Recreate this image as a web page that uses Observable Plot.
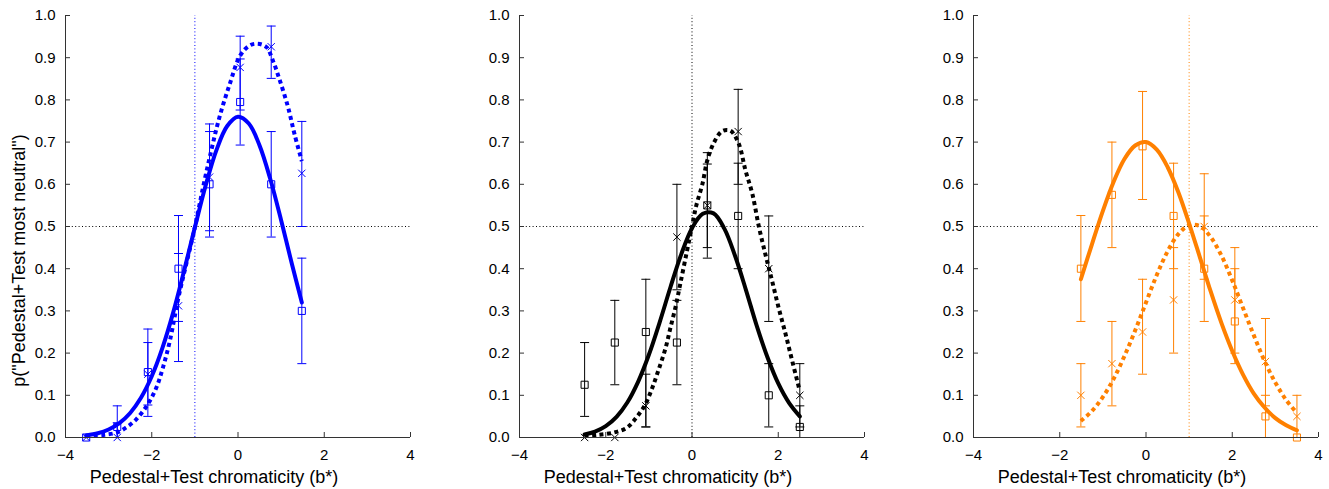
<!DOCTYPE html>
<html>
<head>
<meta charset="utf-8">
<script src="https://cdn.jsdelivr.net/npm/d3@7"></script>
<script src="https://cdn.jsdelivr.net/npm/@observablehq/plot@0.6"></script>
<style>
  html, body { margin: 0; padding: 0; background: #fff; }
  #chart { display: flex; width: 1329px; height: 489px; }
</style>
</head>
<body>
<div id="chart"></div>
<script>
// ---- axis ticks and labels ----
const xTicks = [-4, -2, 0, 2, 4];
const yTicks = [0, 0.1, 0.2, 0.3, 0.4, 0.5, 0.6, 0.7, 0.8, 0.9, 1.0];
const xTitle = "Pedestal+Test chromaticity (b*)";
const yTitle = 'p("Pedestal+Test most neutral")';

// ---- panel 1 (blue) ----
const p1X     = [-3.52, -2.8, -2.09, -1.38, -0.66, 0.05, 0.77, 1.48];
const p1SqY   = [0, 0.025, 0.155, 0.40, 0.60, 0.795, 0.60, 0.30];
const p1SqLo  = [0, 0, 0.05, 0.275, 0.475, 0.693, 0.475, 0.175];
const p1SqHi  = [0, 0.075, 0.257, 0.526, 0.725, 0.897, 0.725, 0.425];
const p1CrY   = [0, 0, 0.15, 0.312, 0.617, 0.877, 0.926, 0.626];
const p1CrLo  = [0, 0, 0.077, 0.18, 0.49, 0.776, 0.851, 0.50];
const p1CrHi  = [0, 0.035, 0.225, 0.436, 0.743, 0.951, 0.975, 0.749];
const p1SolidX = [-3.52, -3.25, -3, -2.75, -2.5, -2.25, -2, -1.75, -1.5, -1.25, -1, -0.75, -0.5, -0.25, 0, 0.25, 0.5, 0.75, 1, 1.25, 1.48];
const p1SolidY = [0.005, 0.010, 0.019, 0.034, 0.058, 0.094, 0.145, 0.213, 0.297, 0.395, 0.498, 0.597, 0.681, 0.738, 0.760, 0.744, 0.692, 0.612, 0.515, 0.411, 0.320];
const p1DashX = [-3.52, -3.13, -2.8, -2.59, -2.36, -2.09, -1.89, -1.74, -1.58, -1.38, -1.2, -1.0, -0.81, -0.62, -0.43, -0.19, 0.05, 0.27, 0.46, 0.66, 0.81, 0.97, 1.16, 1.31, 1.48];
const p1DashY = [0.004, 0.006, 0.012, 0.024, 0.043, 0.079, 0.119, 0.166, 0.229, 0.332, 0.411, 0.498, 0.593, 0.68, 0.759, 0.838, 0.905, 0.929, 0.933, 0.925, 0.893, 0.846, 0.783, 0.719, 0.655];

// ---- panel 2 (black) ----
const p2X     = [-2.49, -1.79, -1.07, -0.35, 0.355, 1.07, 1.78, 2.5];
const p2SqY   = [0.125, 0.225, 0.25, 0.225, 0.55, 0.525, 0.10, 0.025];
const p2SqLo  = [0.05, 0.125, 0.025, 0.125, 0.425, 0.40, 0.025, 0.0];
const p2SqHi  = [0.225, 0.325, 0.375, 0.325, 0.675, 0.65, 0.175, 0.075];
const p2CrY   = [0, 0, 0.075, 0.475, 0.55, 0.725, 0.40, 0.10];
const p2CrLo  = [0, 0, 0.025, 0.35, 0.45, 0.60, 0.275, 0.025];
const p2CrHi  = [0, 0, 0.15, 0.60, 0.648, 0.825, 0.525, 0.175];
const p2SolidX = [-2.49, -2.25, -2, -1.75, -1.5, -1.25, -1, -0.75, -0.5, -0.25, 0, 0.25, 0.5, 0.75, 1, 1.25, 1.5, 1.75, 2, 2.25, 2.5];
const p2SolidY = [0.007, 0.014, 0.027, 0.049, 0.083, 0.132, 0.196, 0.273, 0.356, 0.434, 0.496, 0.530, 0.531, 0.495, 0.43, 0.35, 0.265, 0.19, 0.128, 0.082, 0.05];
const p2DashX = [-2.49, -2.2, -1.8, -1.5, -1.27, -1.08, -0.92, -0.77, -0.61, -0.5, -0.38, -0.27, -0.12, 0.0, 0.1, 0.24, 0.35, 0.5, 0.7, 0.89, 1.08, 1.24, 1.4, 1.55, 1.7, 1.86, 2.01, 2.17, 2.32, 2.5];
const p2DashY = [0.003, 0.006, 0.012, 0.024, 0.05, 0.079, 0.118, 0.162, 0.213, 0.26, 0.31, 0.365, 0.44, 0.5, 0.55, 0.60, 0.655, 0.697, 0.726, 0.727, 0.697, 0.633, 0.577, 0.50, 0.435, 0.37, 0.307, 0.245, 0.183, 0.11];

// ---- panel 3 (orange) ----
const p3X     = [-1.51, -0.79, -0.08, 0.64, 1.35, 2.06, 2.77, 3.5];
const p3SqY   = [0.40, 0.575, 0.69, 0.525, 0.40, 0.275, 0.05, 0.0];
const p3SqLo  = [0.275, 0.45, 0.564, 0.40, 0.275, 0.175, 0.0, 0.0];
const p3SqHi  = [0.526, 0.70, 0.82, 0.65, 0.525, 0.40, 0.10, 0.0];
const p3CrY   = [0.10, 0.175, 0.25, 0.326, 0.50, 0.326, 0.18, 0.05];
const p3CrLo  = [0.025, 0.075, 0.15, 0.20, 0.375, 0.20, 0.075, 0.0];
const p3CrHi  = [0.175, 0.275, 0.375, 0.45, 0.625, 0.45, 0.282, 0.10];
const p3SolidX = [-1.51, -1.25, -1, -0.75, -0.5, -0.25, 0, 0.25, 0.5, 0.75, 1, 1.25, 1.5, 1.75, 2, 2.25, 2.5, 2.75, 3, 3.25, 3.5];
const p3SolidY = [0.375, 0.459, 0.537, 0.606, 0.660, 0.692, 0.700, 0.682, 0.641, 0.581, 0.507, 0.427, 0.346, 0.271, 0.205, 0.149, 0.104, 0.071, 0.046, 0.029, 0.017];
const p3DashX = [-1.51, -1.25, -1, -0.75, -0.5, -0.25, 0, 0.25, 0.5, 0.75, 1, 1.25, 1.5, 1.75, 2, 2.25, 2.5, 2.75, 3, 3.25, 3.5];
const p3DashY = [0.039, 0.063, 0.096, 0.139, 0.193, 0.254, 0.320, 0.385, 0.441, 0.482, 0.503, 0.501, 0.475, 0.431, 0.372, 0.307, 0.242, 0.181, 0.130, 0.089, 0.058];

// ---- panel settings ----
const panelColors = ["#0000ff", "#000000", "#ff8000"];
const panelRefX = [-1, 0, 1];

const panels = [
  {x: p1X, sqY: p1SqY, sqLo: p1SqLo, sqHi: p1SqHi, crY: p1CrY, crLo: p1CrLo, crHi: p1CrHi,
   solidX: p1SolidX, solidY: p1SolidY, dashX: p1DashX, dashY: p1DashY, marginLeft: 65, marginRight: 33, yTitle: true},
  {x: p2X, sqY: p2SqY, sqLo: p2SqLo, sqHi: p2SqHi, crY: p2CrY, crLo: p2CrLo, crHi: p2CrHi,
   solidX: p2SolidX, solidY: p2SolidY, dashX: p2DashX, dashY: p2DashY, marginLeft: 76, marginRight: 22, yTitle: false},
  {x: p3X, sqY: p3SqY, sqLo: p3SqLo, sqHi: p3SqHi, crY: p3CrY, crLo: p3CrLo, crHi: p3CrHi,
   solidX: p3SolidX, solidY: p3SolidY, dashX: p3DashX, dashY: p3DashY, marginLeft: 87, marginRight: 11, yTitle: false}
];

const axisColor = "#333";
const capSymbol = {
  draw(ctx, size) {
    const w = Math.sqrt(size / Math.PI);
    ctx.moveTo(-w, 0);
    ctx.lineTo(w, 0);
  }
};

function makePanel(p, i) {
  const color = panelColors[i];
  const sq = p.x.map((x, j) => ({x, y: p.sqY[j], lo: p.sqLo[j], hi: p.sqHi[j]}));
  const cr = p.x.map((x, j) => ({x, y: p.crY[j], lo: p.crLo[j], hi: p.crHi[j]}));
  const bars = sq.concat(cr);
  const solid = p.solidX.map((x, j) => ({x, y: p.solidY[j]}));
  const dash = p.dashX.map((x, j) => ({x, y: p.dashY[j]}));
  const marks = [
    Plot.ruleY([0.5], {stroke: "#000", strokeWidth: 1, strokeDasharray: "1,2.4"}),
    Plot.ruleX([panelRefX[i]], {y1: 0, y2: 1, stroke: color, strokeWidth: 1, strokeDasharray: "1,2.4"}),
    Plot.ruleX(bars, {x: "x", y1: "lo", y2: "hi", stroke: color, strokeWidth: 1}),
    Plot.dot(bars, {x: "x", y: "lo", symbol: capSymbol, r: 4.5, stroke: color, fill: "none", strokeWidth: 1}),
    Plot.dot(bars, {x: "x", y: "hi", symbol: capSymbol, r: 4.5, stroke: color, fill: "none", strokeWidth: 1}),
    Plot.line(solid, {x: "x", y: "y", stroke: color, strokeWidth: 4, curve: "catmull-rom"}),
    Plot.line(dash, {x: "x", y: "y", stroke: color, strokeWidth: 4, strokeDasharray: "4,3.5", strokeLinecap: "butt", curve: "catmull-rom"}),
    Plot.dot(sq, {x: "x", y: "y", symbol: "square", r: 4, stroke: color, fill: "none", strokeWidth: 1}),
    Plot.dot(cr, {x: "x", y: "y", symbol: "times", r: 3.4, stroke: color, strokeWidth: 1}),
    Plot.ruleX([-4], {stroke: axisColor, strokeWidth: 1}),
    Plot.ruleY([0], {stroke: axisColor, strokeWidth: 1}),
    Plot.axisX({ticks: xTicks, tickSize: 0, tickPadding: 12, label: null, fontSize: 15}),
    Plot.axisX({ticks: xTicks, tickSize: 5, dy: -5, tickFormat: () => "", label: null, stroke: axisColor}),
    Plot.axisY({ticks: yTicks, tickSize: 0, tickPadding: 10, tickFormat: d3.format(".1f"), label: null, fontSize: 15}),
    Plot.axisY({ticks: yTicks, tickSize: 5, dx: 5, tickFormat: () => "", label: null, stroke: axisColor}),
    Plot.text([xTitle], {text: d => d, frameAnchor: "bottom", textAnchor: "middle", lineAnchor: "middle", dy: 40, dx: -24, fontSize: 18})
  ];
  if (p.yTitle) {
    marks.push(Plot.text([yTitle], {text: d => d, frameAnchor: "left", textAnchor: "middle", lineAnchor: "middle", rotate: -90, dx: -46, dy: 34, fontSize: 18}));
  }
  return Plot.plot({
    width: 443,
    height: 489,
    marginTop: 15,
    marginBottom: 52,
    marginLeft: p.marginLeft,
    marginRight: p.marginRight,
    x: {domain: [-4, 4], label: null},
    y: {domain: [0, 1], label: null},
    style: {fontFamily: "'Liberation Sans', Arial, Helvetica, sans-serif", fontSize: "15px", background: "#fff", overflow: "visible"},
    marks
  });
}

const chart = document.getElementById("chart");
panels.forEach((p, i) => chart.appendChild(makePanel(p, i)));
</script>
</body>
</html>
